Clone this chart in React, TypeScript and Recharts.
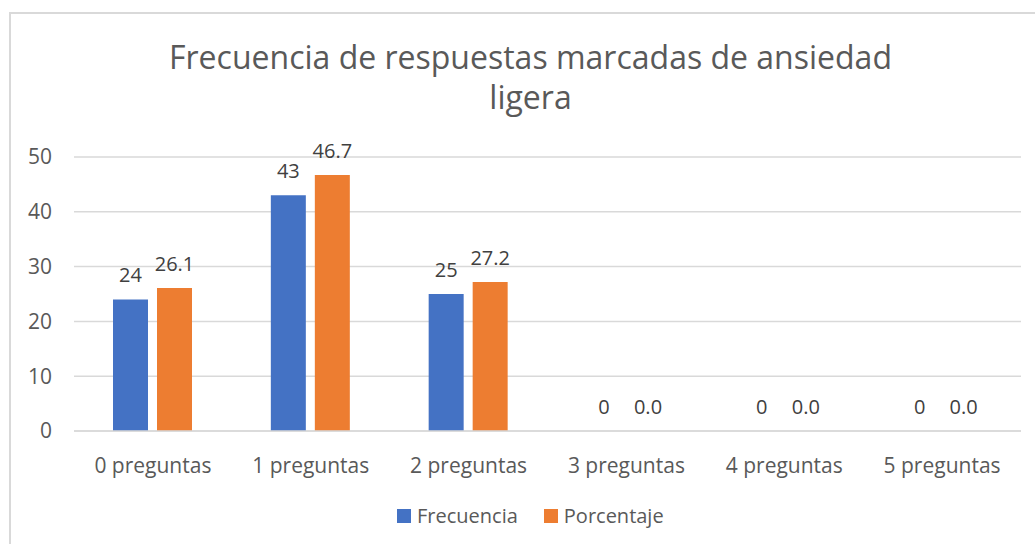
import React from "react";
import { Bar, BarChart, CartesianGrid, LabelList, Legend, XAxis, YAxis } from "recharts";

const categories = ["0 preguntas", "1 preguntas", "2 preguntas", "3 preguntas", "4 preguntas", "5 preguntas"];
const frecuencia = [24, 43, 25, 0, 0, 0];
const porcentaje = [26.1, 46.7, 27.2, 0, 0, 0];
const yTicks = [0, 10, 20, 30, 40, 50];

const data = categories.map((name, i) => ({
  name,
  frecuencia: frecuencia[i],
  porcentaje: porcentaje[i],
}));

const BLUE = "#4472C4";
const ORANGE = "#ED7D31";
const TEXT = "#595959";

const legendItems = [
  { label: "Frecuencia", color: BLUE },
  { label: "Porcentaje", color: ORANGE },
];

const LegendContent = () => (
  <div style={{ display: "flex", alignItems: "center", fontSize: 20, color: TEXT, lineHeight: "28px" }}>
    {legendItems.map((item, i) => (
      <div key={item.label} style={{ display: "flex", alignItems: "center", marginLeft: i ? 26 : 0 }}>
        <span style={{ width: 14, height: 14, background: item.color, display: "inline-block", marginRight: 6 }} />
        <span>{item.label}</span>
      </div>
    ))}
  </div>
);

export default function App() {
  return (
    <div
      style={{
        position: "absolute",
        left: 0,
        top: 0,
        width: 1035,
        height: 544,
        overflow: "hidden",
        background: "#fff",
        fontFamily: "'Open Sans', sans-serif",
      }}
    >
      {/* chart frame, runs off the right and bottom edge like the source */}
      <div
        style={{
          position: "absolute",
          left: 9,
          top: 12,
          width: 1100,
          height: 600,
          border: "2px solid #D9D9D9",
        }}
      />
      <div
        style={{
          position: "absolute",
          left: 0,
          top: 37,
          width: 1061,
          textAlign: "center",
          fontSize: 32,
          lineHeight: "40px",
          color: TEXT,
        }}
      >
        Frecuencia de respuestas marcadas de ansiedad
        <br />
        ligera
      </div>
      <div style={{ position: "absolute", left: 0, top: 0 }}>
        <BarChart
          width={1035}
          height={544}
          data={data}
          margin={{ top: 157, right: 14, left: 0, bottom: 83 }}
          barCategoryGap={39}
          barGap={9}
        >
          <CartesianGrid vertical={false} stroke="#D9D9D9" strokeWidth={1.5} />
          <XAxis
            dataKey="name"
            interval={0}
            height={30}
            tickLine={false}
            tickSize={0}
            tickMargin={27}
            axisLine={{ stroke: "#D9D9D9", strokeWidth: 1.5 }}
            tick={{ fill: TEXT, fontSize: 21 }}
          />
          <YAxis
            width={74}
            domain={[0, 50]}
            ticks={yTicks}
            axisLine={false}
            tickLine={false}
            tickSize={0}
            tickMargin={22}
            tick={{ fill: TEXT, fontSize: 21 }}
          />
          <Legend
            layout="horizontal"
            verticalAlign="middle"
            align="center"
            wrapperStyle={{ left: 397, top: 502, width: 320 }}
            content={LegendContent}
          />
          <Bar dataKey="frecuencia" name="Frecuencia" fill={BLUE} minPointSize={0.01} isAnimationActive={false}>
            <LabelList dataKey="frecuencia" position="top" offset={17} fill="#404040" fontSize={20} />
          </Bar>
          <Bar dataKey="porcentaje" name="Porcentaje" fill={ORANGE} minPointSize={0.01} isAnimationActive={false}>
            <LabelList
              dataKey="porcentaje"
              position="top"
              offset={17}
              fill="#404040"
              fontSize={20}
              formatter={(v: any) => Number(v).toFixed(1)}
            />
          </Bar>
        </BarChart>
      </div>
    </div>
  );
}
